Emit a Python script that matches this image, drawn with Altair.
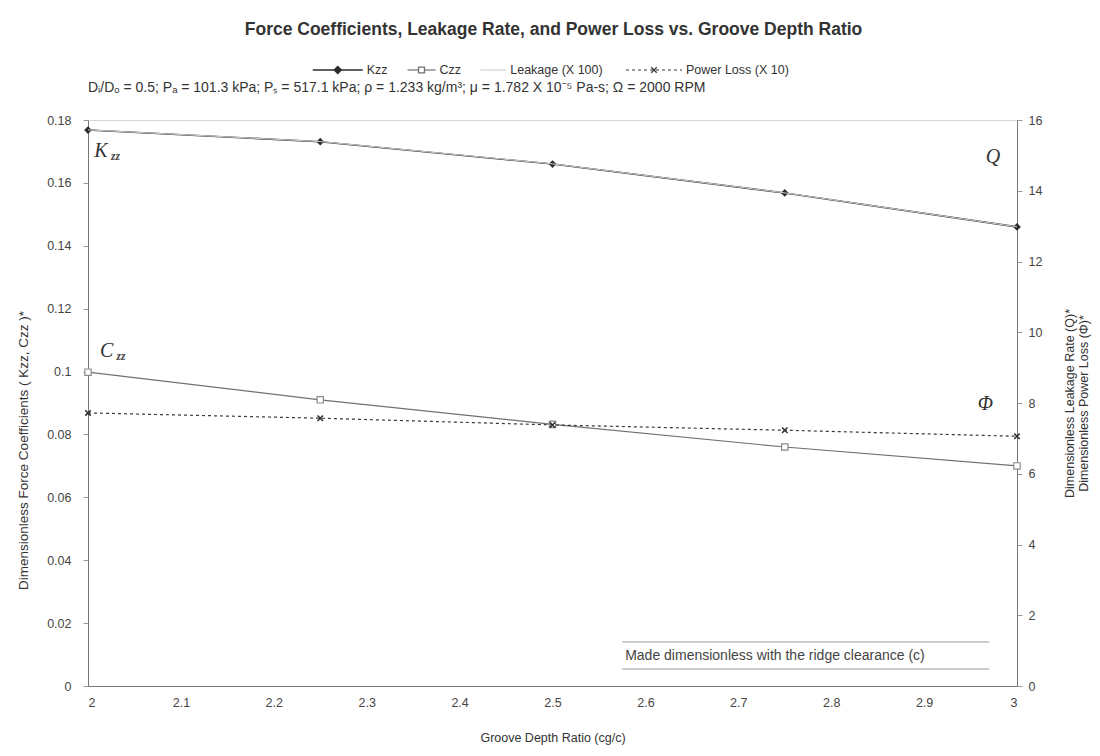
import altair as alt
import pandas as pd

# ---------------- data ----------------
groove_depth_ratio = [2.0, 2.25, 2.5, 2.75, 3.0]
kzz_values = [0.1768, 0.1731, 0.1660, 0.1568, 0.1460]
czz_values = [0.0998, 0.0910, 0.0832, 0.0760, 0.0700]
leakage_x100 = [15.72, 15.39, 14.76, 13.94, 12.98]
power_loss_x10 = [7.72, 7.57, 7.38, 7.23, 7.06]

left_tick_values = [0, 0.02, 0.04, 0.06, 0.08, 0.1, 0.12, 0.14, 0.16, 0.18]
right_tick_values = [0, 2, 4, 6, 8, 10, 12, 14, 16]
x_tick_values = [2.0, 2.1, 2.2, 2.3, 2.4, 2.5, 2.6, 2.7, 2.8, 2.9, 3.0]

legend_names = ["Kzz", "Czz", "Leakage (X 100)", "Power Loss (X 10)"]

curve_label_text = ["K", "C", "Q", "Φ"]
curve_label_sub = ["zz", "zz", "", ""]
curve_label_x = [2.014, 2.020, 2.974, 2.966]
curve_label_y = [0.1700, 0.1065, 0.1682, 0.0897]

note_text = ["Made dimensionless with the ridge clearance (c)"]
note_x_start = [2.575]
note_x_end = [2.97]
note_rule_y = [0.0140, 0.0054]
note_text_y = [0.0096]

title_text = "Force Coefficients, Leakage Rate, and Power Loss vs. Groove Depth Ratio"
param_text = ("Dᵢ/Dₒ = 0.5;  Pₐ = 101.3 kPa;  Pₛ = 517.1 kPa;  ρ = 1.233 kg/m³;  "
              "μ = 1.782 X 10⁻⁵ Pa-s;  Ω = 2000 RPM")

FONT = "Liberation Sans"
SERIF = "Liberation Serif"
X_PATH = "M-1,-1L1,1M-1,1L1,-1"
PLOT_W, PLOT_H = 929, 566

# ---------------- frames ----------------
df = pd.DataFrame({
    "ratio": groove_depth_ratio,
    "kzz": kzz_values,
    "czz": czz_values,
    "leak": leakage_x100,
    "ploss": power_loss_x10,
})
lab_df = pd.DataFrame({"txt": curve_label_text, "sub": curve_label_sub,
                       "x": curve_label_x, "y": curve_label_y})
rule_df = pd.DataFrame({"x0": note_x_start * len(note_rule_y),
                        "x1": note_x_end * len(note_rule_y),
                        "y": note_rule_y})
note_df = pd.DataFrame({"t": note_text, "x": note_x_start, "y": note_text_y})

# ---------------- axes / encodings ----------------
x_axis = alt.Axis(values=x_tick_values, format="~g", title="Groove Depth Ratio (cg/c)",
                  ticks=False, labelPadding=10, labelFontSize=12.5, labelColor="#444",
                  titleFontSize=12.5, titleFontWeight="normal", titleColor="#333",
                  titlePadding=23, domainColor="#777", grid=False)
left_axis = alt.Axis(values=left_tick_values, format="~g",
                     title="Dimensionless Force Coefficients ( Kzz, Czz )*",
                     tickSize=5, tickColor="#999", labelPadding=12, labelFontSize=12.5,
                     labelColor="#444", titleFontSize=13.5, titleFontWeight="normal",
                     titleColor="#333", titlePadding=16, titleY=330,
                     domainColor="#777", grid=False)
right_axis = alt.Axis(orient="right", values=right_tick_values, format="~g",
                      title=["Dimensionless Leakage Rate (Q)*", "Dimensionless Power Loss (Φ)*"],
                      titleAngle=270, titleBaseline="top",
                      tickSize=5, tickColor="#999", labelPadding=6, labelFontSize=12.5,
                      labelColor="#444", titleFontSize=12.5, titleFontWeight="normal",
                      titleColor="#333", titlePadding=7, domainColor="#777", grid=False)

XS = alt.Scale(domain=[2, 3], nice=False, zero=False)
x_enc = alt.X("ratio:Q", scale=XS, axis=x_axis)


def ly(field):
    return alt.Y(f"{field}:Q", scale=alt.Scale(domain=[0, 0.18], nice=False), axis=left_axis)


def ry(field):
    return alt.Y(f"{field}:Q", scale=alt.Scale(domain=[0, 16], nice=False), axis=right_axis)


base = alt.Chart(df)

# left-axis layers
kzz_line = base.mark_line(color="#2b2b2b", strokeWidth=1.6).encode(x=x_enc, y=ly("kzz"))
kzz_pts = base.mark_point(shape="diamond", filled=True, color="#2b2b2b", size=60,
                          opacity=1).encode(x=x_enc, y=ly("kzz"))
czz_line = base.mark_line(color="#707070", strokeWidth=1.2).encode(x=x_enc, y=ly("czz"))
czz_pts = base.mark_point(shape="square", filled=True, fill="white", stroke="#8a8a8a",
                          strokeWidth=1.2, size=40, opacity=1).encode(x=x_enc, y=ly("czz"))

lab_x = alt.X("x:Q", scale=XS, axis=x_axis)
labels = alt.Chart(lab_df).mark_text(font=SERIF, fontStyle="italic", fontSize=20,
                                     color="#333", align="center", baseline="middle").encode(
    x=lab_x, y=ly("y"), text="txt:N")
subs = alt.Chart(lab_df).mark_text(font=SERIF, fontStyle="italic", fontWeight="bold",
                                   fontSize=11.5, color="#444", align="left",
                                   baseline="middle", dx=10, dy=6).encode(
    x=lab_x, y=ly("y"), text="sub:N")

note_rules = alt.Chart(rule_df).mark_rule(color="#9a9a9a", strokeWidth=1).encode(
    x=alt.X("x0:Q", scale=XS, axis=x_axis), x2="x1:Q", y=ly("y"))
note = alt.Chart(note_df).mark_text(font=FONT, fontSize=14, color="#444", align="left",
                                    baseline="middle", dx=3).encode(
    x=alt.X("x:Q", scale=XS, axis=x_axis), y=ly("y"), text="t:N")

left_layer = alt.layer(kzz_line, czz_line, note_rules, note, labels, subs, kzz_pts, czz_pts)

# right-axis layers
leak_line = base.mark_line(color="#d0d0d0", strokeWidth=1).encode(x=x_enc, y=ry("leak"))
pl_line = base.mark_line(color="#3a3a3a", strokeWidth=1.2, strokeDash=[3, 3]).encode(
    x=x_enc, y=ry("ploss"))
pl_pts = base.mark_point(shape=X_PATH, filled=False, stroke="#2b2b2b", strokeWidth=1.5,
                         size=30, opacity=1).encode(x=x_enc, y=ry("ploss"))
right_layer = alt.layer(leak_line, pl_line, pl_pts)

main = alt.layer(left_layer, right_layer).resolve_scale(y="independent").properties(
    width=PLOT_W, height=PLOT_H,
    title=alt.TitleParams(param_text, anchor="start", frame="group", fontSize=14,
                          fontWeight="normal", color="#333", font=FONT, offset=19),
    view=alt.ViewBackground(stroke="#d6d6d6"),
)

# ---------------- legend row (layout from label lengths, centred on plot) ----------------
LEG_FS = 12.5
LEG_GAP = 22
sym_widths = [50, 28, 26, 56]
leg_rows = []
cursor = 0.0
for name, sw in zip(legend_names, sym_widths):
    sym_c = cursor + sw / 2
    txt_x = cursor + sw + 4
    cursor = txt_x + len(name) * LEG_FS * 0.5 + LEG_GAP
    leg_rows.append({"name": name, "sym": sym_c, "tx": txt_x})
leg_total = cursor - LEG_GAP
shift = (PLOT_W - leg_total) / 2
for r in leg_rows:
    r["sym"] += shift
    r["tx"] += shift
leg_df = pd.DataFrame(leg_rows)
LS = alt.Scale(domain=[0, PLOT_W], nice=False, zero=False)
leg_base = alt.Chart(leg_df).encode(y=alt.value(11))
legend_styles = [
    dict(color="#2b2b2b", width=1.6, dash=None, marker="diamond", mfill="#2b2b2b", msize=50),
    dict(color="#707070", width=1.2, dash=None, marker="square", mfill="white", msize=35),
    dict(color="#c8c8c8", width=1.0, dash=None, marker=None, mfill=None, msize=0),
    dict(color="#3a3a3a", width=1.2, dash=[3, 3], marker=X_PATH, mfill=None, msize=30),
]
leg_layers = []
for name, sw, st in zip(legend_names, sym_widths, legend_styles):
    sub = leg_base.transform_filter(alt.datum.name == name).encode(
        x=alt.X("sym:Q", scale=LS, axis=None))
    line_kw = dict(shape="M-1,0L1,0", size=sw * sw, filled=False, stroke=st["color"],
                   strokeWidth=st["width"], opacity=1)
    if st["dash"]:
        line_kw["strokeDash"] = st["dash"]
    leg_layers.append(sub.mark_point(**line_kw))
    if st["marker"]:
        mk = dict(shape=st["marker"], size=st["msize"], opacity=1,
                  stroke=st["color"], strokeWidth=1.3)
        if st["mfill"]:
            mk.update(filled=True, fill=st["mfill"])
        else:
            mk.update(filled=False)
        leg_layers.append(sub.mark_point(**mk))
leg_layers.append(leg_base.mark_text(align="left", fontSize=LEG_FS, font=FONT,
                                     color="#333").encode(
    x=alt.X("tx:Q", scale=LS, axis=None), text="name:N"))
legend_chart = alt.layer(*leg_layers).properties(
    width=PLOT_W, height=20, view=alt.ViewBackground(stroke="transparent"))

chart = alt.vconcat(legend_chart, main, spacing=41, bounds="flush").properties(
    title=alt.TitleParams(title_text, anchor="middle", fontSize=17.5, fontWeight="bold",
                          color="#333", font=FONT, offset=20),
    padding={"left": 16, "top": 21, "right": 4, "bottom": 4},
    background="white",
).configure(font=FONT)

chart.save("out.html", embed_options={"renderer": "svg", "actions": False})
